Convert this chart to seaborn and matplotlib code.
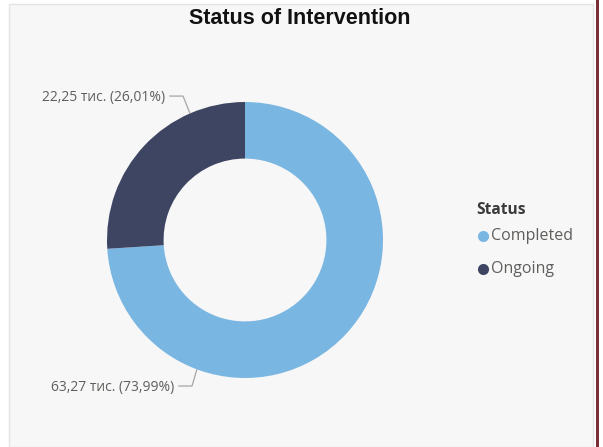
import numpy as np
import matplotlib
matplotlib.use("Agg")
import matplotlib.pyplot as plt
import seaborn as sns
from matplotlib.patches import Rectangle
from matplotlib.lines import Line2D

# ---------------- data ----------------
statuses = ["Completed", "Ongoing"]
values_thousands = [63.27, 22.25]
percents = [73.99, 26.01]
colors = ["#79B6E1", "#3E4563"]

title = "Status of Intervention"
legend_title = "Status"

# ---------------- style ----------------
sns.set_theme(style="white")
plt.rcParams["font.family"] = ["Open Sans", "DejaVu Sans"]

W, H, DPI = 603, 447, 100
fig = plt.figure(figsize=(W / DPI, H / DPI), dpi=DPI)
fig.patch.set_facecolor("white")

def fx(px):
    return px / W

def fy(py):
    return 1 - py / H

# panel background
fig.patches.append(Rectangle((fx(8.5), 0), fx(592.5) - fx(8.5), fy(3.5),
                             transform=fig.transFigure, facecolor="#F7F7F7",
                             edgecolor="#E4E4E4", linewidth=1.0, zorder=-10))
# maroon right border
fig.patches.append(Rectangle((fx(596), 0), fx(3), 1, transform=fig.transFigure,
                             facecolor="#7A2E38", edgecolor="none", zorder=-10))

# title
fig.text(fx(300), fy(18), title, ha="center", va="center",
         fontsize=15.5, fontweight="bold", family=["Liberation Sans", "DejaVu Sans"],
         color="#111111")

# donut axes
cx, cy, R = 245, 240, 138
ax = fig.add_axes([fx(cx - R), fy(cy + R), 2 * R / W, 2 * R / H])
ax.set_zorder(5)
ax.set_facecolor("none")
wedges, _ = ax.pie(values_thousands, colors=colors, startangle=90, counterclock=False,
                   radius=1.0, wedgeprops=dict(width=0.41, linewidth=0))
ax.set_xlim(-1, 1)
ax.set_ylim(-1, 1)
ax.set_aspect("equal")
ax.axis("off")

# data labels with leader lines
label_angles = [249.6, 113.5]  # where leader lines touch the ring
elbows = [(-0.384, -1.058), (-0.449, 1.043)]
line_len = 0.10
for val, pct, ang, (ex, ey) in zip(values_thousands, percents, label_angles, elbows):
    t = np.deg2rad(ang)
    px, py = np.cos(t), np.sin(t)
    endx = ex - line_len
    ax.plot([px, ex, endx], [py, ey, ey], color="#A6A6A6", lw=0.9, clip_on=False,
            solid_capstyle="butt")
    txt = f"{val:.2f} тис. ({pct:.2f}%)".replace(".", ",").replace("тис,", "тис.")
    ax.text(endx - 0.03, ey - 0.012, txt, ha="right", va="center", fontsize=10,
            color="#605E5C", clip_on=False)

# legend
fig.text(fx(476), fy(210), legend_title, ha="left", va="center", fontsize=11.2,
         fontweight="bold", color="#3A3A3A")
for i, (name, col) in enumerate(zip(statuses, colors)):
    yy = 236 + i * 33
    fig.lines.append(Line2D([fx(483)], [fy(yy)], transform=fig.transFigure,
                            marker="o", markersize=8, markerfacecolor=col,
                            markeredgecolor="none", linestyle="none"))
    fig.text(fx(491), fy(yy), name, ha="left", va="center", fontsize=11.5,
             color="#605E5C")

fig.savefig("out.png", dpi=DPI, facecolor=fig.get_facecolor())
